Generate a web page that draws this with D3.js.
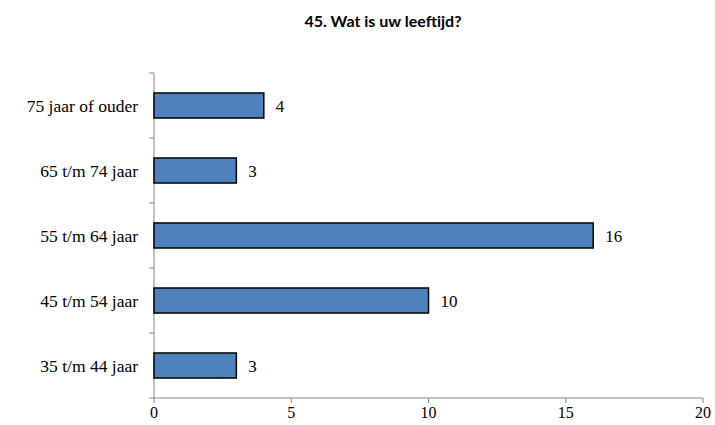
<!DOCTYPE html>
<html>
<head>
<meta charset="utf-8">
<script src="https://cdn.jsdelivr.net/npm/d3@7"></script>
<style>
  body { margin: 0; background: #fff; }
  svg { display: block; }
</style>
</head>
<body>
<script>
const categories = ['75 jaar of ouder', '65 t/m 74 jaar', '55 t/m 64 jaar', '45 t/m 54 jaar', '35 t/m 44 jaar'];
const counts = [4, 3, 16, 10, 3];
const xTicks = [0, 5, 10, 15, 20];

const margin = {
  top: 73, right: 12, bottom: 27, left: 154,
};
const width = 715 - margin.left - margin.right;
const height = 425 - margin.top - margin.bottom;

const svg = d3.select('body').append('svg')
  .attr('width', 715)
  .attr('height', 425);

svg.append('text')
  .attr('x', 383)
  .attr('y', 27)
  .attr('text-anchor', 'middle')
  .style('font-family', 'Lato, "Open Sans", sans-serif')
  .style('font-weight', 'bold')
  .style('font-size', '16px')
  .text('45. Wat is uw leeftijd?');

const g = svg.append('g')
  .attr('transform', `translate(${margin.left},${margin.top})`);

const x = d3.scaleLinear().domain([0, 20]).range([0, width]);
const y = d3.scaleBand().domain(categories).range([0, height])
  .paddingInner(0.615)
  .paddingOuter(0.3075);

const data = categories.map((c, i) => ({ cat: c, value: counts[i] }));

// axes
const axisColor = '#868686';
const step = y.step();
const bounds = d3.range(categories.length + 1).map(i => i * step);

g.append('line')
  .attr('x1', 0).attr('x2', 0)
  .attr('y1', 0).attr('y2', height)
  .attr('stroke', axisColor);
g.selectAll('.ytick').data(bounds).enter().append('line')
  .attr('x1', -5).attr('x2', 0)
  .attr('y1', d => d).attr('y2', d => d)
  .attr('stroke', axisColor);

g.append('line')
  .attr('x1', 0).attr('x2', width)
  .attr('y1', height).attr('y2', height)
  .attr('stroke', axisColor);
g.selectAll('.xtick').data(xTicks).enter().append('line')
  .attr('x1', d => x(d)).attr('x2', d => x(d))
  .attr('y1', height).attr('y2', height + 5)
  .attr('stroke', axisColor);
g.selectAll('.xlabel').data(xTicks).enter().append('text')
  .attr('x', d => x(d))
  .attr('y', height + 20)
  .attr('text-anchor', 'middle')
  .style('font-family', '"Liberation Serif", serif')
  .style('font-size', '16px')
  .style('font-variant-numeric', 'oldstyle-nums')
  .text(d => d);

g.selectAll('.ylabel').data(categories).enter().append('text')
  .attr('x', -16)
  .attr('y', d => y(d) + y.bandwidth() / 2)
  .attr('dy', '0.35em')
  .attr('text-anchor', 'end')
  .style('font-family', '"Liberation Serif", serif')
  .style('font-size', '17.5px')
  .style('font-variant-numeric', 'oldstyle-nums')
  .text(d => d);

// bars
g.selectAll('.bar').data(data).enter().append('rect')
  .attr('x', 0)
  .attr('y', d => y(d.cat))
  .attr('width', d => x(d.value))
  .attr('height', y.bandwidth())
  .attr('fill', '#4f81bd')
  .attr('stroke', '#000')
  .attr('stroke-width', 1.5);

g.selectAll('.val').data(data).enter().append('text')
  .attr('x', d => x(d.value) + 12)
  .attr('y', d => y(d.cat) + y.bandwidth() / 2)
  .attr('dy', '0.4em')
  .style('font-family', '"Liberation Serif", serif')
  .style('font-size', '17px')
  .style('font-variant-numeric', 'oldstyle-nums')
  .text(d => d.value);
</script>
</body>
</html>
